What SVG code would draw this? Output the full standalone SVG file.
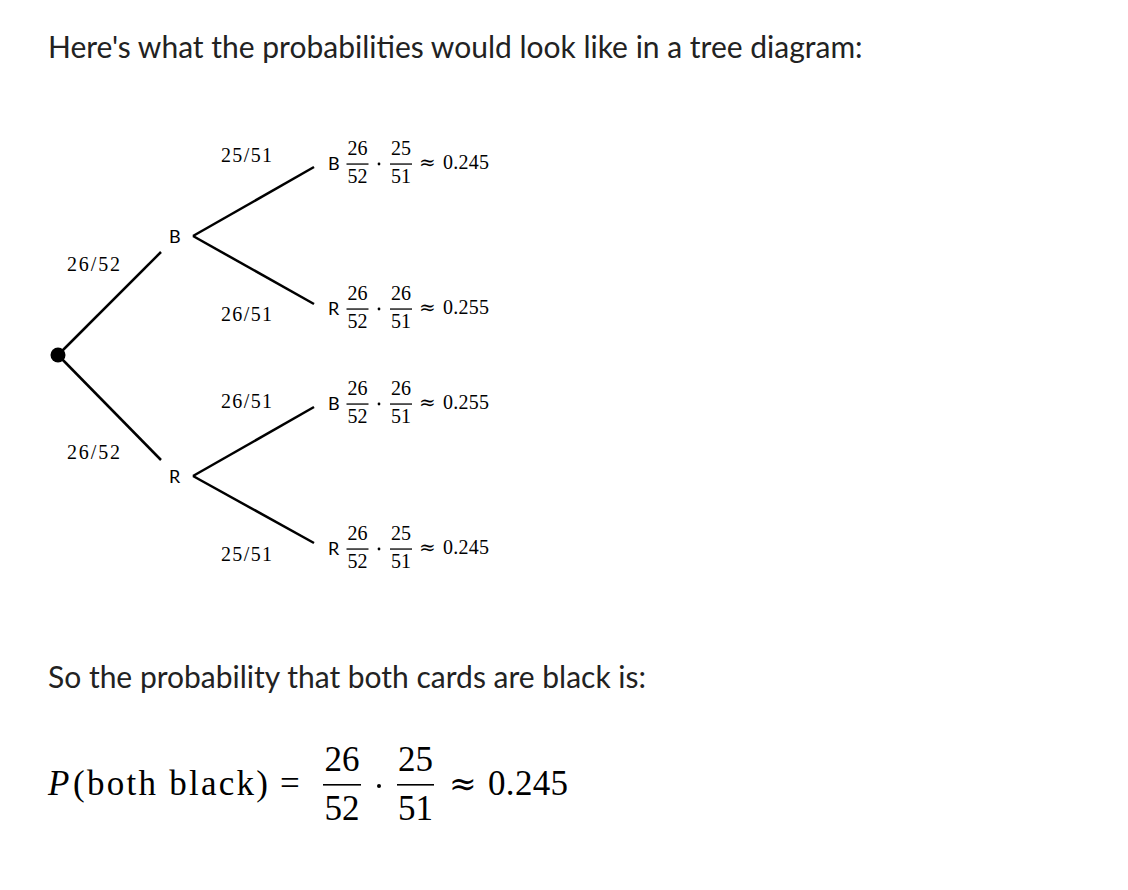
<svg xmlns="http://www.w3.org/2000/svg" width="1128" height="890" viewBox="0 0 1128 890">
<style>
.prose{font-family:Lato,"Open Sans","Liberation Sans",sans-serif;font-size:30px;fill:#222}
.lbl{font-family:Lato,"Liberation Sans",sans-serif;font-size:18px;fill:#000}
.m{font-family:"Liberation Serif",serif;font-size:20px;fill:#000}
.mc{font-family:"Liberation Serif",serif;font-size:20px;fill:#000;text-anchor:middle}
.ap{font-family:"DejaVu Serif",serif;font-size:20px;fill:#000}
.M{font-family:"Liberation Serif",serif;font-size:35px;fill:#000}
.Mc{font-family:"Liberation Serif",serif;font-size:35px;fill:#000;text-anchor:middle}
.AP{font-family:"DejaVu Serif",serif;font-size:33px;fill:#000}
.edge{stroke:#000;stroke-width:2.5;fill:none;stroke-linecap:butt}
.bar{fill:#000}
</style>
<rect width="1128" height="890" fill="#fff"/>
<text class="prose" x="48" y="58">Here's what the probabilities would look like in a tree diagram:</text>

<g id="connectors">
<line class="edge" x1="58" y1="355" x2="161" y2="252"/>
<line class="edge" x1="58" y1="355" x2="161" y2="460"/>
<line class="edge" x1="193" y1="236" x2="314" y2="167"/>
<line class="edge" x1="193" y1="236" x2="314" y2="304"/>
<line class="edge" x1="193" y1="476" x2="314" y2="407"/>
<line class="edge" x1="193" y1="476" x2="314" y2="543"/>
<text class="m" x="67" y="271" textLength="53" lengthAdjust="spacing">26/52</text>
<text class="m" x="67" y="459" textLength="53" lengthAdjust="spacing">26/52</text>
<text class="m" x="221" y="162" textLength="51" lengthAdjust="spacing">25/51</text>
<text class="m" x="221" y="321" textLength="51" lengthAdjust="spacing">26/51</text>
<text class="m" x="221" y="408" textLength="51" lengthAdjust="spacing">26/51</text>
<text class="m" x="221" y="561" textLength="51" lengthAdjust="spacing">25/51</text>
</g>

<g id="root"><circle cx="58" cy="355" r="7.5" fill="#000"/></g>
<g id="node-B"><text class="lbl" x="169" y="243">B</text></g>
<g id="node-R"><text class="lbl" x="169" y="483">R</text></g>

<g id="leaf-BB" transform="translate(0,164)">
<text class="lbl" x="328" y="6">B</text>
<text class="mc" x="357.5" y="-9">26</text><rect class="bar" x="346.5" y="-0.6" width="22" height="1.3"/><text class="mc" x="357.5" y="19">52</text>
<circle cx="379" cy="0" r="1.4"/>
<text class="mc" x="401" y="-9">25</text><rect class="bar" x="390" y="-0.6" width="22" height="1.3"/><text class="mc" x="401" y="19">51</text>
<text class="ap" x="419" y="5">≈</text><text class="m" x="443" y="5" textLength="46" lengthAdjust="spacing">0.245</text>
</g>
<g id="leaf-BR" transform="translate(0,309)">
<text class="lbl" x="328" y="6">R</text>
<text class="mc" x="357.5" y="-9">26</text><rect class="bar" x="346.5" y="-0.6" width="22" height="1.3"/><text class="mc" x="357.5" y="19">52</text>
<circle cx="379" cy="0" r="1.4"/>
<text class="mc" x="401" y="-9">26</text><rect class="bar" x="390" y="-0.6" width="22" height="1.3"/><text class="mc" x="401" y="19">51</text>
<text class="ap" x="419" y="5">≈</text><text class="m" x="443" y="5" textLength="46" lengthAdjust="spacing">0.255</text>
</g>
<g id="leaf-RB" transform="translate(0,404)">
<text class="lbl" x="328" y="6">B</text>
<text class="mc" x="357.5" y="-9">26</text><rect class="bar" x="346.5" y="-0.6" width="22" height="1.3"/><text class="mc" x="357.5" y="19">52</text>
<circle cx="379" cy="0" r="1.4"/>
<text class="mc" x="401" y="-9">26</text><rect class="bar" x="390" y="-0.6" width="22" height="1.3"/><text class="mc" x="401" y="19">51</text>
<text class="ap" x="419" y="5">≈</text><text class="m" x="443" y="5" textLength="46" lengthAdjust="spacing">0.255</text>
</g>
<g id="leaf-RR" transform="translate(0,549)">
<text class="lbl" x="328" y="6">R</text>
<text class="mc" x="357.5" y="-9">26</text><rect class="bar" x="346.5" y="-0.6" width="22" height="1.3"/><text class="mc" x="357.5" y="19">52</text>
<circle cx="379" cy="0" r="1.4"/>
<text class="mc" x="401" y="-9">25</text><rect class="bar" x="390" y="-0.6" width="22" height="1.3"/><text class="mc" x="401" y="19">51</text>
<text class="ap" x="419" y="5">≈</text><text class="m" x="443" y="5" textLength="46" lengthAdjust="spacing">0.245</text>
</g>

<text class="prose" x="48" y="688">So the probability that both cards are black is:</text>

<g id="equation">
<text class="M" x="48" y="795" font-style="italic">P</text>
<text class="M" x="73" y="795" textLength="195" lengthAdjust="spacing">(both black)</text>
<text class="M" x="280" y="795">=</text>
<text class="Mc" x="342" y="771">26</text><rect class="bar" x="323" y="784" width="38" height="1.6"/><text class="Mc" x="342" y="820">52</text>
<circle cx="379" cy="786" r="2"/>
<text class="Mc" x="415.5" y="771">25</text><rect class="bar" x="397" y="784" width="37" height="1.6"/><text class="Mc" x="415.5" y="820">51</text>
<text class="AP" x="449" y="795">≈</text>
<text class="M" x="488" y="795" textLength="80" lengthAdjust="spacing">0.245</text>
</g>
</svg>
